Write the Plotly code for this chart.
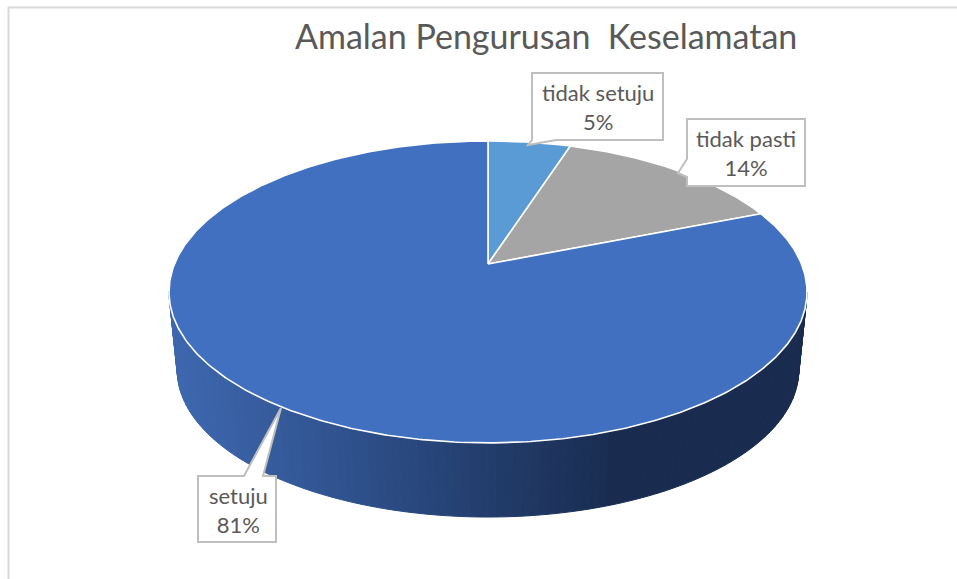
import numpy as np
import plotly.graph_objects as go

# ---- data ----
categories = ["tidak setuju", "tidak pasti", "setuju"]
values = [5, 14, 81]
colors = ["#5b9bd5", "#a5a5a5", "#4170c0"]
title_text = "Amalan Pengurusan  Keselamatan"

# ---- projection of the tilted pie onto the axes ----
CX, CY = 488.0, 264.0
A, B, K = 313.5, 145.8, 0.185
DEPTH, FLOOR = 79.6, 0.975


def project(theta, r=1.0, dy=0.0):
    w = 1 + K * r * np.cos(theta)
    return CX + A * r * np.sin(theta) / w, CY + dy - B * r * np.cos(theta) / w


fig = go.Figure()

# side wall: only the front half of the drum is visible
t_start = np.arccos(-K)
t_end = 2 * np.pi - np.arccos(-K * FLOOR)
edges = np.linspace(t_start, t_end, 121)
shade_x = [170, 280, 400, 500, 610, 810]
shade_rgb = np.array([[62, 104, 176], [54, 91, 156], [43, 74, 129], [34, 60, 106], [26, 45, 81], [25, 44, 79]])
for t0, t1 in zip(edges[:-1], edges[1:]):
    seg = np.linspace(t0, t1, 4)
    xt, yt = project(seg)
    xb, yb = project(seg[::-1], FLOOR, DEPTH)
    xs = np.r_[xt, xb, xt[0]]
    ys = np.r_[yt, yb, yt[0]]
    mid = xs.mean()
    rgb = [int(np.interp(mid, shade_x, shade_rgb[:, c])) for c in range(3)]
    col = f"rgb({rgb[0]},{rgb[1]},{rgb[2]})"
    fig.add_trace(go.Scatter(x=xs, y=ys, mode="lines", fill="toself", fillcolor=col,
                             line=dict(color=col, width=1), hoverinfo="skip", showlegend=False))

# top face: one wedge per value
total = sum(values)
start = 0.0
for name, val, col in zip(categories, values, colors):
    stop = start + val / total * 2 * np.pi
    th = np.linspace(start, stop, max(int(val * 6), 12))
    xe, ye = project(th)
    fig.add_trace(go.Scatter(x=np.r_[CX, xe, CX], y=np.r_[CY, ye, CY], mode="lines", fill="toself",
                             fillcolor=col, line=dict(color="white", width=1.6), name=name,
                             hoverinfo="name", showlegend=False))
    start = stop


def callout(points):
    return dict(type="path", xref="x", yref="y", layer="above", fillcolor="white",
                line=dict(color="#bfbfbf", width=2),
                path="M " + " L ".join(f"{x} {y}" for x, y in points) + " Z")


shapes = [
    dict(type="line", xref="x", yref="y", x0=8, x1=957, y0=7.5, y1=7.5, line=dict(color="#d9d9d9", width=2), layer="below"),
    dict(type="line", xref="x", yref="y", x0=8.5, x1=8.5, y0=7, y1=579, line=dict(color="#d9d9d9", width=2), layer="below"),
    callout([(532, 73), (663, 73), (663, 140), (556, 140), (528, 145), (532, 140)]),
    callout([(687, 119), (805, 119), (805, 186), (687, 186), (687, 177), (678, 173), (687, 159)]),
    callout([(198, 476), (244, 476), (281, 408), (263, 476), (276, 476), (276, 542), (198, 542)]),
]

FONT = "Lato"
TXT = "#595959"
labels = [(597.5, 107), (746, 153), (238, 510)]
annotations = [dict(x=546, y=35, xref="x", yref="y", text=title_text, showarrow=False,
                    font=dict(family=FONT, size=34, color=TXT))]
for (lx, ly), name, val in zip(labels, categories, values):
    annotations.append(dict(x=lx, y=ly, xref="x", yref="y", text=f"{name}<br>{val}%", showarrow=False,
                            align="center", font=dict(family=FONT, size=22, color=TXT)))

fig.update_layout(
    width=957, height=579, margin=dict(l=0, r=0, t=0, b=0), autosize=False,
    paper_bgcolor="white", plot_bgcolor="white", showlegend=False,
    xaxis=dict(range=[0, 957], visible=False, fixedrange=True),
    yaxis=dict(range=[579, 0], visible=False, fixedrange=True),
    shapes=shapes, annotations=annotations,
)
fig.write_html("out.html", config={"displayModeBar": False},
               post_script="document.body.style.margin='0';document.body.style.overflow='hidden';")
